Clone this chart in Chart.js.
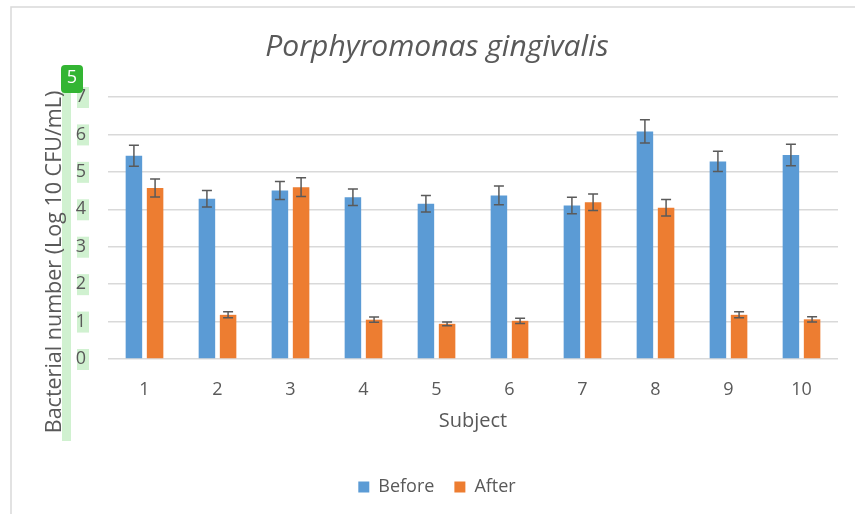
<!DOCTYPE html>
<html>
<head>
<meta charset="utf-8">
<script src="https://cdn.jsdelivr.net/npm/chart.js@4.4.1/dist/chart.umd.min.js"></script>
<style>
  body { margin: 0; background: #fff; }
  canvas { display: block; }
</style>
</head>
<body>
<canvas id="bacteriaChart" width="855" height="514"></canvas>
<script>
const subjects = ['1', '2', '3', '4', '5', '6', '7', '8', '9', '10'];
const before = [5.43, 4.28, 4.50, 4.32, 4.15, 4.37, 4.10, 6.08, 5.28, 5.45];
const beforeErr = [0.28, 0.22, 0.24, 0.22, 0.22, 0.25, 0.22, 0.31, 0.27, 0.29];
const after = [4.57, 1.18, 4.59, 1.05, 0.94, 1.02, 4.19, 4.04, 1.18, 1.06];
const afterErr = [0.24, 0.08, 0.25, 0.07, 0.05, 0.07, 0.22, 0.22, 0.08, 0.07];
const yTicks = [0, 1, 2, 3, 4, 5, 6, 7];
const yTitle = 'Bacterial number (Log 10 CFU/mL)';

const FONT = '"Open Sans", Lato, sans-serif';
const TEXT = '#595959';

// light frame, green highlight marks and the y axis title
const decorations = {
    id: 'decorations',
    beforeDraw(chart) {
        const ctx = chart.ctx;
        const y = chart.scales.y;
        ctx.save();
        ctx.strokeStyle = '#d9d9d9';
        ctx.lineWidth = 1.5;
        ctx.strokeRect(11, 7, 900, 600);

        ctx.fillStyle = 'rgba(150, 225, 150, 0.45)';
        ctx.fillRect(62, 85, 9, 356);
        yTicks.forEach(t => {
            const py = y.getPixelForValue(t);
            ctx.fillRect(77, py - 10, 12, 21);
        });
        ctx.restore();
    },
    afterDraw(chart) {
        const ctx = chart.ctx;
        ctx.save();
        ctx.translate(55, 262);
        ctx.rotate(-Math.PI / 2);
        ctx.fillStyle = TEXT;
        ctx.font = '21.5px ' + FONT;
        ctx.textAlign = 'center';
        ctx.textBaseline = 'middle';
        ctx.fillText(yTitle, 0, 0);
        ctx.restore();

        ctx.save();
        ctx.fillStyle = '#33b533';
        ctx.beginPath();
        ctx.roundRect(61, 65, 22, 28, 4);
        ctx.fill();
        ctx.fillStyle = '#fff';
        ctx.font = '18px ' + FONT;
        ctx.textAlign = 'center';
        ctx.textBaseline = 'middle';
        ctx.fillText('5', 72, 78);
        ctx.restore();
    }
};

// error bars from the err arrays
const errorBars = {
    id: 'errorBars',
    afterDatasetsDraw(chart) {
        const ctx = chart.ctx;
        const y = chart.scales.y;
        const errs = [beforeErr, afterErr];
        ctx.save();
        ctx.strokeStyle = '#5a5a5a';
        ctx.lineWidth = 1.5;
        chart.data.datasets.forEach((ds, i) => {
            chart.getDatasetMeta(i).data.forEach((bar, j) => {
                const v = ds.data[j];
                const e = errs[i][j];
                const top = y.getPixelForValue(v + e);
                const bot = y.getPixelForValue(v - e);
                ctx.beginPath();
                ctx.moveTo(bar.x, top);
                ctx.lineTo(bar.x, bot);
                ctx.moveTo(bar.x - 5, top);
                ctx.lineTo(bar.x + 5, top);
                ctx.moveTo(bar.x - 5, bot);
                ctx.lineTo(bar.x + 5, bot);
                ctx.stroke();
            });
        });
        ctx.restore();
    }
};

new Chart(document.getElementById('bacteriaChart'), {
    type: 'bar',
    data: {
        labels: subjects,
        datasets: [{
            label: 'Before',
            data: before,
            backgroundColor: '#5b9bd5'
        }, {
            label: 'After',
            data: after,
            backgroundColor: '#ed7d31'
        }]
    },
    options: {
        responsive: false,
        animation: false,
        categoryPercentage: 0.58,
        barPercentage: 0.78,
        layout: { padding: { left: 36, right: 17, top: 0, bottom: 8 } },
        plugins: {
            title: {
                display: true,
                text: 'Porphyromonas gingivalis',
                color: TEXT,
                font: { family: FONT, size: 30, style: 'italic', weight: 'normal' },
                padding: { top: 29, bottom: 32 }
            },
            legend: {
                position: 'bottom',
                labels: {
                    color: TEXT,
                    font: { family: FONT, size: 18 },
                    boxWidth: 11,
                    boxHeight: 11,
                    padding: 20
                }
            },
            tooltip: { enabled: false }
        },
        scales: {
            x: {
                grid: { display: false },
                border: { display: false },
                ticks: { color: TEXT, font: { family: FONT, size: 18 }, padding: 12 },
                title: {
                    display: true,
                    text: 'Subject',
                    color: TEXT,
                    font: { family: FONT, size: 20 },
                    padding: { top: 0, bottom: 25 }
                },
                afterFit(scale) { scale.height = 99; }
            },
            y: {
                min: 0,
                max: 7,
                ticks: { stepSize: 1, color: TEXT, font: { family: FONT, size: 18 }, padding: 22 },
                grid: { color: '#d9d9d9', lineWidth: 1.5, drawTicks: false },
                border: { display: false },
                afterFit(scale) { scale.width = 72; }
            }
        }
    },
    plugins: [decorations, errorBars]
});
</script>
</body>
</html>
